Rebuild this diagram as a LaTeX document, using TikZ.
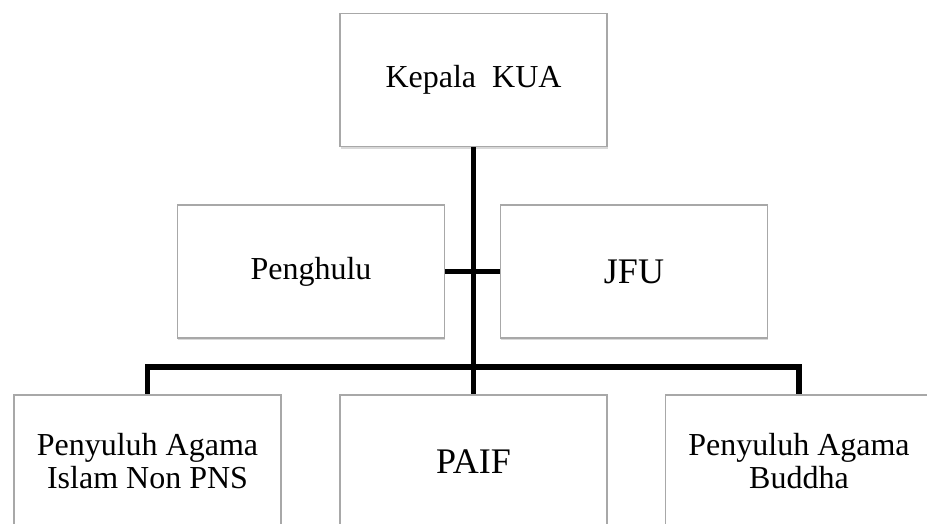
\documentclass[tikz,border=0pt]{standalone}
\usepackage{fontspec}
\setmainfont{Liberation Serif}
\usetikzlibrary{shadows}
\definecolor{boxline}{HTML}{A8A8A8}
\tikzset{
  orgbox/.style={draw=boxline, line width=1.5pt, fill=white, minimum width=267pt, minimum height=133pt,
    inner sep=0pt, align=center, drop shadow={opacity=0.3, shadow xshift=0.8pt, shadow yshift=-2.5pt}},
  conn/.style={draw=black, line width=5.5pt, line join=miter}
}
\begin{document}
\begin{tikzpicture}[x=1pt,y=1pt]
\useasboundingbox (0,0) rectangle (927,524);
\node[orgbox, font=\fontsize{32}{34}\selectfont] (kua) at (473.5,444) {Kepala\ \ KUA};
\node[orgbox, font=\fontsize{32}{34}\selectfont] (pen) at (311,252.5) {Penghulu};
\node[orgbox, font=\fontsize{36}{38}\selectfont] (jfu) at (634,252.5) {JFU};
\node[orgbox, font=\fontsize{32}{33}\selectfont] (pai) at (147.5,62.5) {Penyuluh Agama\\Islam Non PNS};
\node[orgbox, font=\fontsize{36}{38}\selectfont] (paif) at (473.5,62.5) {PAIF};
\node[orgbox, font=\fontsize{32}{33}\selectfont] (pab) at (799,62.5) {Penyuluh Agama\\Buddha};
\coordinate (bar) at (473.5,157);
\draw[conn] (kua.south) -- (bar);
\draw[conn] (pen.east) -- (jfu.west);
\draw[conn] (pai.north) |- (bar) -| (pab.north);
\draw[conn] (bar) -- (paif.north);
\end{tikzpicture}
\end{document}
